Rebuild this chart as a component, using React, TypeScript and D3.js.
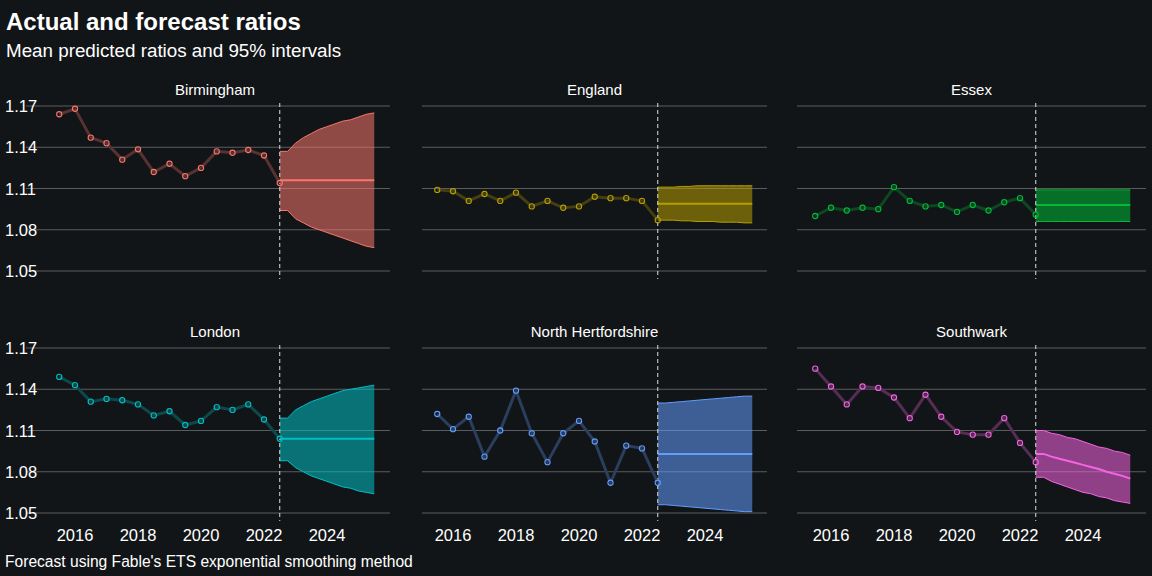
import React from 'react';
import * as d3 from 'd3';

const regions = ['Birmingham', 'England', 'Essex', 'London', 'North Hertfordshire', 'Southwark'];
const colors = ['#F8766D', '#B79F00', '#00BA38', '#00BFC4', '#619CFF', '#F564E3'];
const years = [2015.5, 2016, 2016.5, 2017, 2017.5, 2018, 2018.5, 2019, 2019.5, 2020, 2020.5, 2021, 2021.5, 2022, 2022.5];
const actual = [
  [1.164, 1.168, 1.147, 1.143, 1.131, 1.1385, 1.122, 1.128, 1.119, 1.125, 1.137, 1.136, 1.138, 1.134, 1.114],
  [1.109, 1.108, 1.101, 1.106, 1.101, 1.107, 1.097, 1.101, 1.096, 1.097, 1.104, 1.103, 1.103, 1.101, 1.087],
  [1.090, 1.096, 1.094, 1.096, 1.095, 1.111, 1.101, 1.097, 1.098, 1.093, 1.098, 1.094, 1.100, 1.103, 1.091],
  [1.149, 1.143, 1.131, 1.133, 1.132, 1.129, 1.121, 1.124, 1.114, 1.117, 1.127, 1.125, 1.129, 1.118, 1.104],
  [1.122, 1.111, 1.120, 1.091, 1.110, 1.139, 1.108, 1.087, 1.108, 1.117, 1.102, 1.072, 1.099, 1.097, 1.072],
  [1.155, 1.142, 1.129, 1.142, 1.141, 1.134, 1.119, 1.136, 1.120, 1.109, 1.107, 1.107, 1.119, 1.101, 1.087],
];
const fcYears = [2022.5, 2022.75, 2023, 2023.25, 2023.5, 2023.75, 2024, 2024.25, 2024.5, 2024.75, 2025, 2025.25, 2025.5];
const fcMean = [
  [1.116, 1.116, 1.116, 1.116, 1.116, 1.116, 1.116, 1.116, 1.116, 1.116, 1.116, 1.116, 1.116],
  [1.099, 1.099, 1.099, 1.099, 1.099, 1.099, 1.099, 1.099, 1.099, 1.099, 1.099, 1.099, 1.099],
  [1.098, 1.098, 1.098, 1.098, 1.098, 1.098, 1.098, 1.098, 1.098, 1.098, 1.098, 1.098, 1.098],
  [1.104, 1.104, 1.104, 1.104, 1.104, 1.104, 1.104, 1.104, 1.104, 1.104, 1.104, 1.104, 1.104],
  [1.093, 1.093, 1.093, 1.093, 1.093, 1.093, 1.093, 1.093, 1.093, 1.093, 1.093, 1.093, 1.093],
  [1.093, 1.093, 1.091, 1.0895, 1.088, 1.0865, 1.085, 1.0835, 1.082, 1.080, 1.0785, 1.077, 1.075],
];
const fcLow = [
  [1.094, 1.094, 1.088, 1.085, 1.082, 1.080, 1.078, 1.076, 1.074, 1.072, 1.070, 1.068, 1.067],
  [1.087, 1.087, 1.087, 1.0865, 1.0865, 1.086, 1.086, 1.086, 1.0855, 1.0855, 1.0855, 1.085, 1.085],
  [1.086, 1.086, 1.086, 1.086, 1.086, 1.086, 1.086, 1.086, 1.086, 1.086, 1.086, 1.086, 1.086],
  [1.088, 1.088, 1.083, 1.080, 1.077, 1.075, 1.073, 1.071, 1.069, 1.068, 1.066, 1.065, 1.064],
  [1.056, 1.056, 1.0555, 1.055, 1.0545, 1.054, 1.0535, 1.053, 1.0525, 1.052, 1.0515, 1.051, 1.051],
  [1.076, 1.076, 1.073, 1.071, 1.069, 1.067, 1.065, 1.064, 1.062, 1.061, 1.059, 1.058, 1.057],
];
const fcHigh = [
  [1.137, 1.137, 1.143, 1.147, 1.150, 1.153, 1.155, 1.157, 1.159, 1.160, 1.162, 1.164, 1.165],
  [1.111, 1.111, 1.111, 1.1115, 1.1115, 1.112, 1.112, 1.112, 1.112, 1.112, 1.112, 1.112, 1.112],
  [1.109, 1.109, 1.109, 1.109, 1.109, 1.109, 1.109, 1.109, 1.109, 1.109, 1.109, 1.109, 1.109],
  [1.119, 1.119, 1.125, 1.128, 1.131, 1.133, 1.135, 1.137, 1.139, 1.140, 1.141, 1.142, 1.143],
  [1.130, 1.130, 1.1305, 1.131, 1.1315, 1.132, 1.1325, 1.133, 1.1335, 1.134, 1.1345, 1.135, 1.135],
  [1.110, 1.110, 1.108, 1.107, 1.105, 1.104, 1.102, 1.100, 1.098, 1.097, 1.095, 1.094, 1.092],
];
const yTicks = [1.05, 1.08, 1.11, 1.14, 1.17];
const xTicks = [2016, 2018, 2020, 2022, 2024];

const BG = '#121517';
const FONT = 'Arial, "Liberation Sans", sans-serif';

export default function App() {
  const colX2016 = [75, 453, 831];
  const gridL = [26, 422, 797];
  const gridR = [390, 767, 1146];
  const rowTop = [106, 348];
  const pxYear = 31.5;

  return (
    <svg width={1152} height={576} style={{ display: 'block', position: 'absolute', left: 0, top: 0, background: BG }}>
      <rect width={1152} height={576} fill={BG} />
      <text x={6} y={30} fill="#fff" fontFamily={FONT} fontSize={24} fontWeight="bold">Actual and forecast ratios</text>
      <text x={6} y={57} fill="#fff" fontFamily={FONT} fontSize={18.8}>Mean predicted ratios and 95% intervals</text>
      {regions.map((name, i) => {
        const col = i % 3, row = Math.floor(i / 3);
        const x = d3.scaleLinear().domain([2016, 2018]).range([colX2016[col], colX2016[col] + 2 * pxYear]);
        const y = d3.scaleLinear().domain([1.05, 1.17]).range([rowTop[row] + 165, rowTop[row]]);
        const c = colors[i];
        const pts = years.map((yr, k) => [x(yr), y(actual[i][k])] as [number, number]);
        const area = d3.area<number>().x((_, k) => x(fcYears[k])).y0((_, k) => y(fcLow[i][k])).y1((_, k) => y(fcHigh[i][k]));
        const hi = d3.line<number>().x((_, k) => x(fcYears[k])).y((d) => y(d));
        const lineCol = d3.interpolateRgb(BG, c)(0.3);
        return (
          <g key={name}>
            {yTicks.map((t) => (
              <line key={t} x1={gridL[col]} x2={gridR[col]} y1={y(t)} y2={y(t)} stroke="#5a5d60" strokeWidth={1} />
            ))}
            {col === 0 && yTicks.map((t) => (
              <text key={t} x={5} y={y(t) + 6} fill="#fff" fontFamily={FONT} fontSize={16.5}>{t.toFixed(2)}</text>
            ))}
            {row === 1 && xTicks.map((t) => (
              <text key={t} x={x(t)} y={541} fill="#fff" fontFamily={FONT} fontSize={16.5} textAnchor="middle">{t}</text>
            ))}
            <text x={(gridL[col] + gridR[col]) / 2 + (col === 0 ? 7 : 0)} y={rowTop[row] - 11} fill="#fff" fontFamily={FONT} fontSize={15} textAnchor="middle">{name}</text>
            <path d={area(fcMean[i]) || ''} fill={c} fillOpacity={0.55} />
            <path d={hi(fcHigh[i]) || ''} fill="none" stroke={c} strokeWidth={1} />
            <path d={hi(fcLow[i]) || ''} fill="none" stroke={c} strokeWidth={1} />
            <path d={hi(fcMean[i]) || ''} fill="none" stroke={c} strokeWidth={2} />
            <line x1={x(2022.5)} x2={x(2022.5)} y1={rowTop[row] - 3} y2={rowTop[row] + 173} stroke="#ddd" strokeWidth={1} strokeDasharray="4,3" />
            <path d={d3.line()(pts) || ''} fill="none" stroke={lineCol} strokeWidth={3} />
            {pts.map((p, k) => (
              <circle key={k} cx={p[0]} cy={p[1]} r={2.6} fill="none" stroke={c} strokeWidth={1.1} />
            ))}
          </g>
        );
      })}
      <text x={5} y={567} fill="#fff" fontFamily={FONT} fontSize={15.6}>Forecast using Fable's ETS exponential smoothing method</text>
    </svg>
  );
}
